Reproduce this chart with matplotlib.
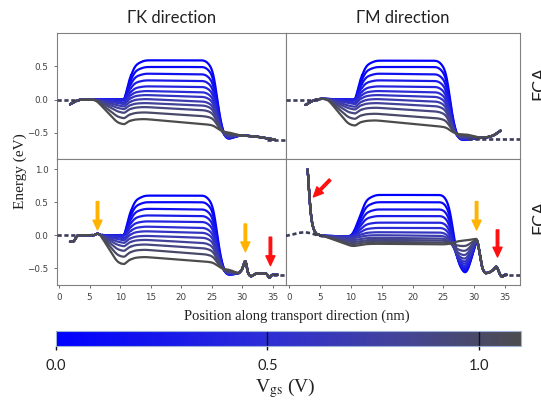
import numpy as np
import matplotlib.pyplot as plt
from matplotlib.colors import LinearSegmentedColormap, Normalize
from matplotlib.cm import ScalarMappable

plt.rcParams['font.family'] = 'DejaVu Sans'
plt.rcParams['mathtext.fontset'] = 'stix'

# gate voltage sweep (V)
vgs = [0.0, 0.1, 0.2, 0.3, 0.4, 0.5, 0.6, 0.7, 0.8, 0.9, 1.0, 1.1]

# GK, upper row: source level, plateau start/end, drain level (eV)
tl_src = [0.0, 0.0, 0.0, 0.0, -0.01, -0.025, -0.05, -0.085, -0.125, -0.18, -0.26, -0.35]
tl_p0 = [0.59, 0.49, 0.39, 0.29, 0.20, 0.13, 0.07, 0.01, -0.05, -0.11, -0.19, -0.29]
tl_p1 = [0.59, 0.49, 0.38, 0.28, 0.19, 0.11, 0.04, -0.03, -0.09, -0.16, -0.25, -0.37]
tl_drain = [-0.59, -0.59, -0.585, -0.58, -0.575, -0.57, -0.56, -0.55, -0.54, -0.53, -0.51, -0.49]

# GM, upper row
tr_src = [0.0, 0.0, 0.0, 0.0, -0.01, -0.025, -0.05, -0.09, -0.13, -0.19, -0.27, -0.37]
tr_p0 = [0.585, 0.49, 0.39, 0.29, 0.20, 0.13, 0.07, 0.01, -0.05, -0.12, -0.21, -0.31]
tr_p1 = [0.585, 0.49, 0.38, 0.28, 0.19, 0.11, 0.04, -0.03, -0.10, -0.18, -0.28, -0.40]
tr_drain = [-0.60, -0.60, -0.60, -0.595, -0.59, -0.585, -0.58, -0.57, -0.56, -0.55, -0.535, -0.52]

# GK, lower row
bl_src = [0.0, 0.0, 0.0, 0.0, -0.01, -0.03, -0.06, -0.10, -0.15, -0.22, -0.31, -0.42]
bl_p0 = [0.60, 0.50, 0.40, 0.30, 0.21, 0.13, 0.06, -0.01, -0.07, -0.14, -0.22, -0.33]
bl_p1 = [0.60, 0.50, 0.39, 0.29, 0.20, 0.11, 0.035, -0.04, -0.12, -0.20, -0.29, -0.40]
bl_drain = [-0.60, -0.60, -0.60, -0.595, -0.59, -0.585, -0.58, -0.57, -0.56, -0.55, -0.54, -0.52]

# GM, lower row (valley just before the 30.5 nm peak)
br_src = [-0.02, -0.02, -0.02, -0.02, -0.02, -0.025, -0.03, -0.05, -0.08, -0.11, -0.14, -0.17]
br_p0 = [0.61, 0.50, 0.39, 0.29, 0.19, 0.11, 0.045, 0.0, -0.04, -0.07, -0.10, -0.13]
br_p1 = [0.61, 0.50, 0.39, 0.29, 0.19, 0.11, 0.04, -0.01, -0.05, -0.08, -0.11, -0.14]
br_valley = [-0.63, -0.61, -0.58, -0.55, -0.51, -0.47, -0.43, -0.38, -0.32, -0.25, -0.17, -0.08]

# contact (lead) levels, drawn dashed
tl_lead_l = ([-0.4, 3.2], [0.0, 0.0])
tl_lead_r = ([34.0, 37.2], [-0.6, -0.6])
tr_lead_l = ([-0.6, 5.0], [0.0, 0.0])
tr_lead_r = ([29.0, 37.5], [-0.585, -0.585])
bl_lead_l = ([-0.4, 2.6], [0.0, 0.0])
bl_lead_r = ([35.0, 37.2], [-0.6, -0.6])
br_lead_l = ([-0.6, 0.5, 1.5, 2.5, 3.5, 4.5, 5.5], [-0.01, 0.01, 0.035, 0.045, 0.03, 0.0, -0.02])
br_lead_r = ([34.5, 37.5], [-0.61, -0.61])

cmap = LinearSegmentedColormap.from_list(
    'vg', [(0.0, '#0000ff'), (0.45, '#2d2dd7'), (0.75, '#444496'), (1.0, '#4c4c4e')])
norm = Normalize(0.0, 1.1)


def gauss_smooth(e, sigma, step):
    n = int(3 * sigma / step)
    k = np.exp(-0.5 * (np.arange(-n, n + 1) * step / sigma) ** 2)
    k /= k.sum()
    return np.convolve(np.pad(e, n, mode='edge'), k, mode='valid')


def band(xk, ek, sharp=(), step=0.02):
    # rounded body, with narrow features (notch, peaks, spikes) kept sharp
    x = np.arange(xk[0], xk[-1] + step / 2, step)
    e = np.interp(x, xk, ek)
    body = gauss_smooth(e, 0.4, step)
    fine = gauss_smooth(e, 0.13, step)
    for lo, hi in sharp:
        body = np.where((x >= lo) & (x <= hi), fine, body)
    return x, body


def dip(s):
    return s - 0.02 if s < -0.02 else s


NOTCH = (10.1, 11.8)


def knots_tl(s, p0, p1, d):
    xk = [1.8, 2.5, 3.2, 6.0, 9.6, 10.7, 11.5, 12.4, 14.0, 24.0, 25.3, 26.3, 27.2, 27.8, 29.5, 32.0,
          33.8, 35.3]
    ek = [-0.08, -0.03, 0.0, 0.0, s, dip(s), s + 0.5 * (p0 - s), s + 0.88 * (p0 - s), p0, p1,
          p1 - 0.12 * (p1 - d), p1 - 0.75 * (p1 - d), d, d, -0.535, -0.55, -0.575, -0.6]
    return band(xk, ek, sharp=[NOTCH])


def knots_tr(s, p0, p1, d):
    xk = [2.6, 3.4, 4.2, 5.2, 6.2, 9.6, 10.7, 11.5, 12.4, 14.0, 24.2, 25.5, 26.5, 27.4, 28.8, 31.0,
          32.5, 33.6, 34.3]
    ek = [-0.09, -0.03, 0.0, 0.015, 0.01, s, dip(s), s + 0.5 * (p0 - s), s + 0.88 * (p0 - s), p0, p1,
          p1 - 0.12 * (p1 - d), p1 - 0.75 * (p1 - d), d, d, -0.575, -0.56, -0.52, -0.45]
    return band(xk, ek, sharp=[NOTCH])


def knots_bl(s, p0, p1, d):
    xk = [1.8, 2.4, 3.0, 5.8, 6.3, 6.8, 9.6, 10.7, 11.5, 12.4, 14.0, 24.0, 25.3, 26.3, 27.2, 27.8,
          29.4, 30.0, 30.5, 30.9, 31.4, 32.2, 34.0, 34.4, 34.8, 35.8]
    ek = [-0.1, -0.1, 0.0, 0.0, 0.03, 0.0, s, dip(s), s + 0.5 * (p0 - s), s + 0.88 * (p0 - s), p0, p1,
          p1 - 0.12 * (p1 - d), p1 - 0.75 * (p1 - d), d, d,
          -0.58, -0.52, -0.35, -0.58, -0.63, -0.58, -0.58, -0.66, -0.6, -0.6]
    return band(xk, ek, sharp=[(0, 3.5), (5.5, 7.0), NOTCH, (28.6, 40)])


def knots_br(s, p0, p1, v):
    xk = [2.95, 3.15, 3.4, 3.7, 4.1, 4.6, 5.5, 10.2, 11.5, 12.4, 14.0, 25.0, 26.0, 27.3, 28.7, 30.5,
          31.3, 31.8, 32.6, 33.2, 33.65, 34.1, 34.5, 34.9, 35.3]
    ek = [1.09, 0.72, 0.38, 0.16, 0.05, 0.0, -0.01, s, s + 0.5 * (p0 - s), s + 0.88 * (p0 - s), p0, p1,
          p1 - 0.12 * (p1 - v), v + 0.18 * (p1 - v), v, -0.05,
          -0.5, -0.58, -0.56, -0.52, -0.46, -0.58, -0.64, -0.6, -0.6]
    return band(xk, ek, sharp=[(0, 4.6), (29.6, 40)])


W, H = 541, 400
fig = plt.figure(figsize=(W / 100, H / 100), dpi=100)
ax_tl = fig.add_axes([57 / W, 1 - 159 / H, 229 / W, 126 / H])
ax_tr = fig.add_axes([286 / W, 1 - 159 / H, 234 / W, 126 / H])
ax_bl = fig.add_axes([57 / W, 1 - 285 / H, 229 / W, 126 / H])
ax_br = fig.add_axes([286 / W, 1 - 285 / H, 234 / W, 126 / H])

panels = [
    (ax_tl, knots_tl, tl_src, tl_p0, tl_p1, tl_drain, [tl_lead_l, tl_lead_r]),
    (ax_tr, knots_tr, tr_src, tr_p0, tr_p1, tr_drain, [tr_lead_l, tr_lead_r]),
    (ax_bl, knots_bl, bl_src, bl_p0, bl_p1, bl_drain, [bl_lead_l, bl_lead_r]),
    (ax_br, knots_br, br_src, br_p0, br_p1, br_valley, [br_lead_l, br_lead_r]),
]

for ax, curve, src, p0, p1, dr, leads in panels:
    for i, v in enumerate(vgs):
        x, e = curve(src[i], p0[i], p1[i], dr[i])
        ax.plot(x, e, color=cmap(norm(v)), lw=1.6, solid_capstyle='round')
    for lx, le in leads:
        ax.plot(lx, le, color='#3c3c5a', lw=1.9, ls=(0, (1.6, 1.0)), zorder=3)
    for sp in ax.spines.values():
        sp.set_color('#808080')
        sp.set_linewidth(0.8)
    ax.tick_params(labelsize=6.3, labelcolor='#404040', length=2.5, width=0.6, color='#555555')

for ax in (ax_tl, ax_bl):
    ax.set_xlim(-0.33, 37.15)
for ax in (ax_tr, ax_br):
    ax.set_xlim(-0.55, 37.45)
    ax.tick_params(left=False, labelleft=False)
for ax in (ax_tl, ax_tr):
    ax.set_ylim(-0.89, 1.0)
    ax.set_yticks([-0.5, 0.0, 0.5])
    ax.tick_params(bottom=False, labelbottom=False)
for ax in (ax_bl, ax_br):
    ax.set_ylim(-0.755, 1.155)
    ax.set_yticks([-0.5, 0.0, 0.5, 1.0])
    ax.set_xticks([0, 5, 10, 15, 20, 25, 30, 35])

# arrows marking the features
arrow_y = dict(facecolor='#ffb300', edgecolor='#ffb300', width=1.8, headwidth=6.5, headlength=7, shrink=0)
arrow_r = dict(facecolor='#ff1010', edgecolor='#ff1010', width=1.8, headwidth=6.5, headlength=7, shrink=0)
ax_bl.annotate('', xy=(6.3, 0.08), xytext=(6.3, 0.51), arrowprops=arrow_y)
ax_bl.annotate('', xy=(30.5, -0.25), xytext=(30.5, 0.17), arrowprops=arrow_y)
ax_bl.annotate('', xy=(34.6, -0.46), xytext=(34.6, -0.03), arrowprops=arrow_r)
ax_br.annotate('', xy=(3.9, 0.58), xytext=(6.6, 0.84), arrowprops=arrow_r)
ax_br.annotate('', xy=(30.4, 0.08), xytext=(30.4, 0.51), arrowprops=arrow_y)
ax_br.annotate('', xy=(33.8, -0.33), xytext=(33.8, 0.08), arrowprops=arrow_r)

ax_tl.set_title('ΓK direction', family='Lato', fontsize=12, pad=7, color='#222222')
ax_tr.set_title('ΓM direction', family='Lato', fontsize=12, pad=7, color='#222222')

fig.text(20 / W, 1 - 171 / H, 'Energy (eV)', family='Liberation Serif', fontsize=11,
         rotation=90, ha='center', va='center', color='#222222')
fig.text(297 / W, 1 - 316 / H, 'Position along transport direction (nm)', family='Liberation Serif',
         fontsize=10.5, ha='center', va='center', color='#222222')
for yc in (83, 217):
    fig.text(531.5 / W, 1 - yc / H, 'FCA', family='Lato', fontsize=13, rotation=90,
             ha='left', va='center', color='#222222')

# colour bar for the gate voltage
cax = fig.add_axes([56 / W, 1 - 346 / H, 465 / W, 15 / H])
cb = fig.colorbar(ScalarMappable(norm=norm, cmap=cmap), cax=cax, orientation='horizontal',
                  ticks=[0.0, 0.5, 1.0])
cb.outline.set_edgecolor('#9db2d8')
cb.outline.set_linewidth(0.8)
cax.set_xticklabels(['0.0', '0.5', '1.0'], family='Lato', fontsize=10.5, color='#222222')
cax.tick_params(length=3, width=1, color='#111111', pad=6)
for t in [0.0, 0.5, 1.0]:
    cax.axvline(t, color='#111111', lw=1)
fig.text(285 / W, 1 - 388 / H, r'V$_{\rm gs}$ (V)', family='Liberation Serif', fontsize=14,
         ha='center', va='center', color='#222222')

fig.savefig('out.png', dpi=100)
